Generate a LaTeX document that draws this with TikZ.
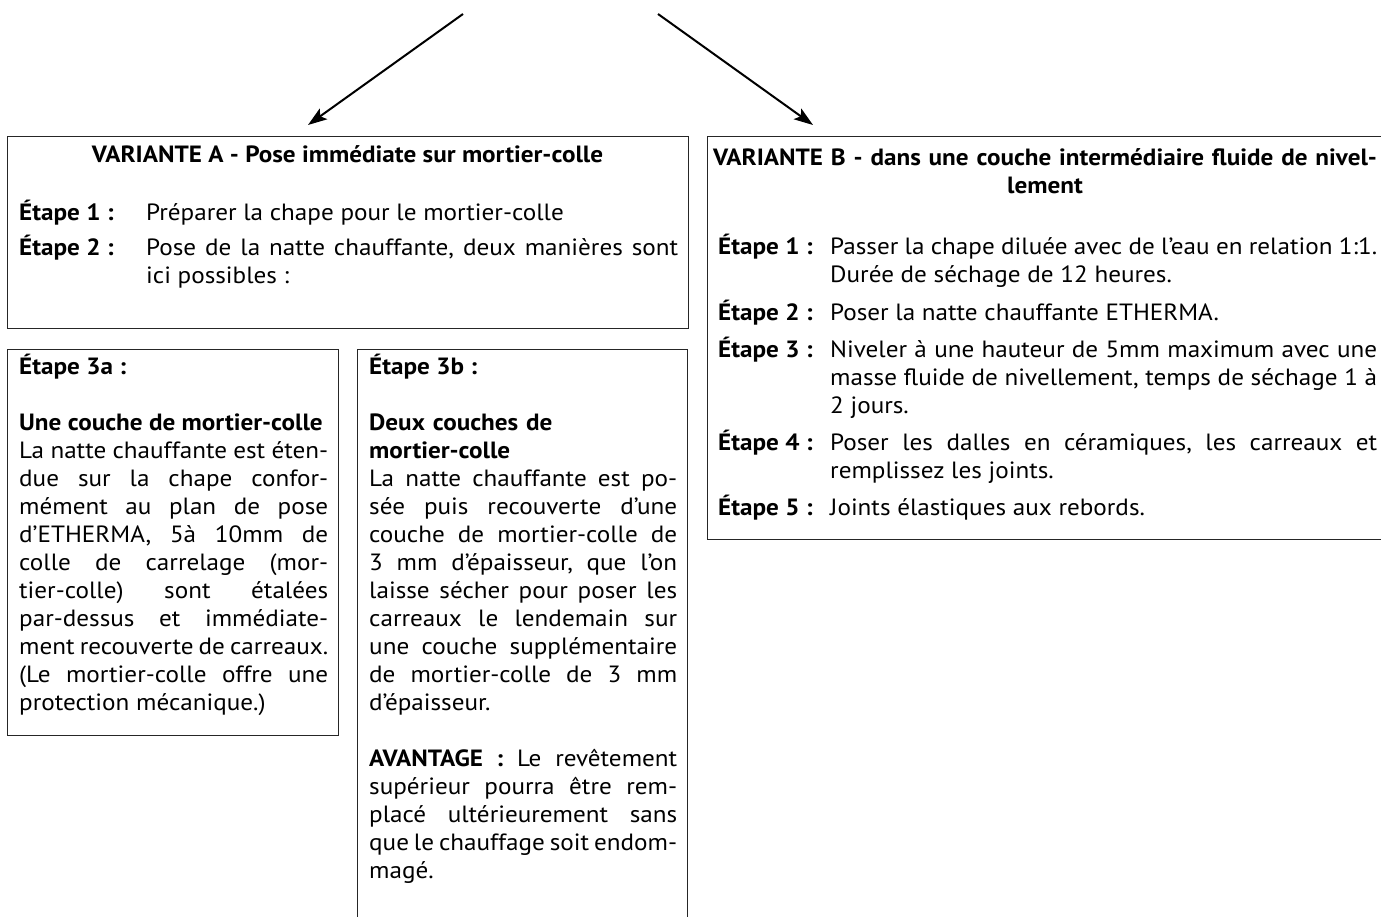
\documentclass[tikz,border=0pt]{standalone}
\usepackage{fontspec}
\setmainfont{PT Sans}[FakeStretch=1.07]
\usetikzlibrary{arrows.meta}
\tolerance=10000
\hbadness=10000
\hfuzz=20pt
\hyphenpenalty=10000
\exhyphenpenalty=10000
\frenchspacing
\newcommand\bodysize{\fontsize{23.5}{28}\selectfont}
\begin{document}
\begin{tikzpicture}[x=1pt,y=-1pt,
  frame/.style={draw=black!85, line width=1.2pt, inner sep=0pt, anchor=north west},
  txt/.style={inner sep=0pt, anchor=base west, font=\bodysize},
  lbl/.style={txt, font=\bodysize\bfseries},
  jpar/.style={txt, align=justify},
  conn/.style={line width=2pt, -{Stealth[length=19pt,width=13pt,inset=4pt]}}]
\useasboundingbox (0,0) rectangle (1381,917);
\clip (0,0) rectangle (1381,917);
% arrows
\coordinate (srcA) at (463,14);
\coordinate (tipA) at (308,125);
\coordinate (srcB) at (658,14);
\coordinate (tipB) at (813,125);
\draw[conn] (srcA) -- (tipA);
\draw[conn] (srcB) -- (tipB);
% boxes
\node[frame, minimum width=681pt, minimum height=192pt] (boxA) at (7,136) {};
\node[frame, minimum width=680pt, minimum height=403pt] (boxB) at (707,136) {};
\node[frame, minimum width=331pt, minimum height=386pt] (box3a) at (7,349) {};
\node[frame, minimum width=330pt, minimum height=620pt] (box3b) at (357,349) {};
% Variante A
\node[lbl, anchor=base] (tA) at (347.5,163) {VARIANTE A - Pose imm\'ediate sur mortier-colle};
\node[lbl] (lA1) at (19,221) {\'Etape 1 :};
\node[txt] (vA1) at (146,221) {Pr\'eparer la chape pour le mortier-colle};
\node[lbl] (lA2) at (19,256) {\'Etape 2 :};
\node[jpar, text width=532pt] (vA2) at (146,256) {Pose de la natte chauffante, deux mani\`eres sont\linebreak ici possibles :};
% Variante B
\node[lbl, anchor=base, text width=680pt, align=center] (tB) at (1045,166) {VARIANTE B - dans une couche interm\'ediaire fluide de nivel-\\lement};
\node[lbl] (lB1) at (718,255) {\'Etape 1 :};
\node[jpar, text width=547pt] (vB1) at (830,255) {Passer la chape dilu\'ee avec de l’eau en relation 1:1.\linebreak Dur\'ee de s\'echage de 12 heures.};
\node[lbl] (lB2) at (718,320) {\'Etape 2 :};
\node[txt] (vB2) at (830,320) {Poser la natte chauffante ETHERMA.};
\node[lbl] (lB3) at (718,357) {\'Etape 3 :};
\node[jpar, text width=547pt] (vB3) at (830,357) {Niveler \`a une hauteur de 5mm maximum avec une\linebreak masse fluide de nivellement, temps de s\'echage 1 \`a\linebreak 2 jours.};
\node[lbl] (lB4) at (718,450) {\'Etape 4 :};
\node[jpar, text width=547pt] (vB4) at (830,450) {Poser les dalles en c\'eramiques, les carreaux et\linebreak remplissez les joints.};
\node[lbl] (lB5) at (718,515) {\'Etape 5 :};
\node[txt] (vB5) at (830,515) {Joints \'elastiques aux rebords.};
% Etape 3a
\node[lbl] (l3a) at (19,374) {\'Etape 3a :};
\node[lbl] (h3a) at (19,430) {Une couche de mortier-colle};
\node[jpar, text width=309pt] (p3a) at (19,458) {La natte chauffante est \'eten-\linebreak due sur la chape confor-\linebreak m\'ement au plan de pose\linebreak d’ETHERMA, 5\`a 10mm de\linebreak colle de carrelage (mor-\linebreak tier-colle) sont \'etal\'ees\linebreak par-dessus et imm\'ediate-\linebreak ment recouverte de carreaux.\linebreak (Le mortier-colle offre une\linebreak protection m\'ecanique.)};
% Etape 3b
\node[lbl] (l3b) at (369,374) {\'Etape 3b :};
\node[lbl, text width=308pt, align=left] (h3b) at (369,430) {Deux couches de\\mortier-colle};
\node[jpar, text width=308pt] (p3b) at (369,486) {La natte chauffante est po-\linebreak s\'ee puis recouverte d’une\linebreak couche de mortier-colle de\linebreak 3 mm d’\'epaisseur, que l’on\linebreak laisse s\'echer pour poser les\linebreak carreaux le lendemain sur\linebreak une couche suppl\'ementaire\linebreak de mortier-colle de 3 mm\linebreak d’\'epaisseur.};
\node[jpar, text width=308pt] (adv) at (369,766) {\textbf{AVANTAGE :} Le rev\^etement\linebreak sup\'erieur pourra \^etre rem-\linebreak plac\'e ult\'erieurement sans\linebreak que le chauffage soit endom-\linebreak mag\'e.};
\end{tikzpicture}
\end{document}
